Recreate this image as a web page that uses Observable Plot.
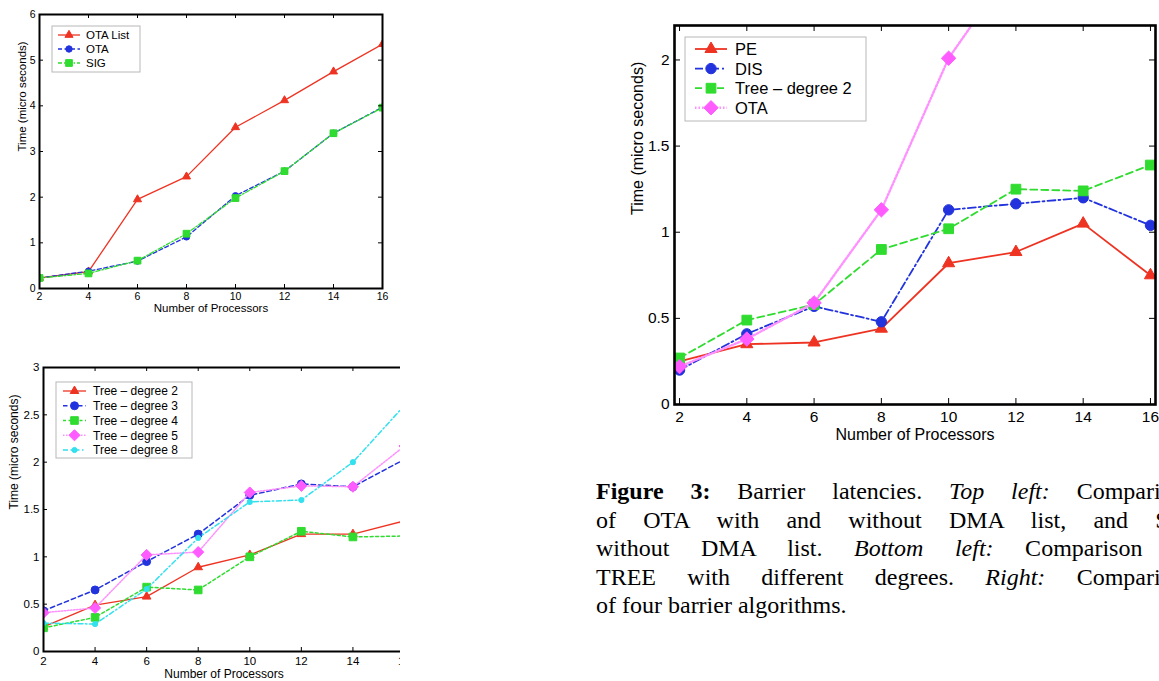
<!DOCTYPE html>
<html>
<head>
<meta charset="utf-8">
<script src="https://cdn.jsdelivr.net/npm/d3@7"></script>
<script src="https://cdn.jsdelivr.net/npm/@observablehq/plot@0.6"></script>
<style>
html, body { margin: 0; padding: 0; background: #fff; overflow: hidden; }
#page { position: relative; width: 1159px; height: 681px; overflow: hidden; background: #fff; }
.panel { position: absolute; overflow: hidden; }
.panel svg { max-width: none !important; }
.legend { position: absolute; }
#caption { position: absolute; left: 596px; top: 477px; width: 598px;
  font-family: "Liberation Serif", "Times New Roman", serif; font-size: 24px; line-height: 28.5px; color: #000; }
#caption .j { text-align: justify; text-align-last: justify; white-space: nowrap; }
#caption .l { text-align: left; white-space: nowrap; }
</style>
</head>
<body>
<div id="page"></div>
<script>
// ---------- data ----------
const procs = [2, 4, 6, 8, 10, 12, 14, 16];
const xTicks = [2, 4, 6, 8, 10, 12, 14, 16];

// top left: OTA with / without DMA list, SIG
const tlNames = ["OTA List", "OTA", "SIG"];
const tlOtaList = [0.23, 0.37, 1.95, 2.45, 3.53, 4.12, 4.75, 5.35];
const tlOta     = [0.23, 0.38, 0.60, 1.13, 2.03, 2.57, 3.40, 3.97];
const tlSig     = [0.23, 0.33, 0.61, 1.20, 1.98, 2.57, 3.40, 3.96];
const tlYTicks  = [0, 1, 2, 3, 4, 5, 6];

// bottom left: TREE with different degrees
const blNames = ["Tree \u2013 degree 2", "Tree \u2013 degree 3", "Tree \u2013 degree 4", "Tree \u2013 degree 5", "Tree \u2013 degree 8"];
const blTree2 = [0.26, 0.49, 0.58, 0.89, 1.02, 1.24, 1.24, 1.38];
const blTree3 = [0.43, 0.65, 0.95, 1.24, 1.65, 1.77, 1.74, 2.03];
const blTree4 = [0.25, 0.36, 0.68, 0.65, 1.00, 1.27, 1.21, 1.22];
const blTree5 = [0.41, 0.46, 1.02, 1.05, 1.68, 1.75, 1.74, 2.17];
const blTree8 = [0.30, 0.29, 0.66, 1.20, 1.58, 1.60, 2.00, 2.60];
const blYTicks = [0, 0.5, 1, 1.5, 2, 2.5, 3];

// right: four barrier algorithms
const rNames = ["PE", "DIS", "Tree \u2013 degree 2", "OTA"];
const rPE    = [0.25, 0.35, 0.36, 0.44, 0.82, 0.885, 1.05, 0.75];
const rDIS   = [0.20, 0.41, 0.57, 0.48, 1.13, 1.165, 1.20, 1.04];
const rTree2 = [0.27, 0.49, 0.58, 0.90, 1.02, 1.25, 1.24, 1.39];
const rOTA   = [0.22, 0.38, 0.59, 1.13, 2.01, 2.57, 3.40, 3.97];
const rYTicks = [0, 0.5, 1, 1.5, 2];

const xLabel = "Number of Processors";
const yLabel = "Time (micro seconds)";

// ---------- styles ----------
const RED = "#ee3322", BLUE = "#2233dd", GREEN = "#2fdc2f", PINK = "#ff5cff", LPINK = "#ff90ff", CYAN = "#33e0ee";
const FONT = '"Liberation Sans", Arial, Helvetica, sans-serif';

const page = document.getElementById("page");

const symbolMap = {
  triangle: d3.symbolTriangle, circle: d3.symbolCircle, square: d3.symbolSquare,
  diamond2: d3.symbolDiamond2, diamond: d3.symbolDiamond
};

function chart(cfg) {
  const fw = cfg.width - cfg.ml - cfg.mr;
  const fh = cfg.height - cfg.mt - cfg.mb;
  const marks = [];
  for (const s of cfg.series) {
    const d = s.values.map((v, i) => ({x: procs[i], y: v}));
    marks.push(Plot.line(d, {x: "x", y: "y", stroke: s.color, strokeWidth: s.lw,
      strokeDasharray: s.dash, clip: true}));
    marks.push(Plot.dot(d, {x: "x", y: "y", symbol: s.symbol, r: s.r, fill: s.mcolor || s.color,
      stroke: s.mcolor || s.color, strokeWidth: 1, clip: true}));
  }
  const tl = cfg.tick;
  marks.push(Plot.ruleX(cfg.xTicks, {x: d => d, insetTop: fh - tl, stroke: "#000", strokeWidth: 1}));
  marks.push(Plot.ruleX(cfg.xTicks, {x: d => d, insetBottom: fh - tl, stroke: "#000", strokeWidth: 1}));
  marks.push(Plot.ruleY(cfg.yTicks, {y: d => d, insetRight: fw - tl, stroke: "#000", strokeWidth: 1}));
  marks.push(Plot.ruleY(cfg.yTicks, {y: d => d, insetLeft: fw - tl, stroke: "#000", strokeWidth: 1}));
  marks.push(Plot.frame({stroke: "#000", strokeWidth: cfg.fsw}));
  marks.push(Plot.axisX(cfg.xTicks, {tickSize: 0, tickPadding: cfg.xpad, fontSize: cfg.tfs, label: null,
    tickFormat: d => String(d)}));
  marks.push(Plot.axisY(cfg.yTicks, {tickSize: 0, tickPadding: cfg.ypad, fontSize: cfg.tfs, label: null,
    tickFormat: d => String(d)}));
  marks.push(Plot.text([xLabel], {text: d => d, frameAnchor: "bottom", dy: cfg.xldy, dx: cfg.xldx || 0, fontSize: cfg.lfs, fill: "#000"}));
  marks.push(Plot.text([yLabel], {text: d => d, frameAnchor: "left", dx: cfg.yldx, rotate: -90, fontSize: cfg.lfs, fill: "#000"}));

  const svg = Plot.plot({
    width: cfg.width, height: cfg.height,
    marginLeft: cfg.ml, marginRight: cfg.mr, marginTop: cfg.mt, marginBottom: cfg.mb,
    x: {domain: cfg.xDomain, label: null},
    y: {domain: cfg.yDomain, label: null},
    style: {fontFamily: FONT, fontSize: cfg.tfs + "px", color: "#000", background: "transparent", overflow: "visible", maxWidth: "none"},
    marks
  });
  svg.style.maxWidth = "none";
  svg.style.width = cfg.width + "px";
  svg.style.height = cfg.height + "px";
  const holder = document.createElement("div");
  holder.className = "panel";
  holder.style.left = cfg.left + "px";
  holder.style.top = cfg.top + "px";
  holder.style.width = (cfg.clipW || cfg.width) + "px";
  holder.style.height = cfg.height + "px";
  holder.appendChild(svg);
  page.appendChild(holder);

  // legend (drawn as overlay box)
  const L = cfg.legend;
  const lg = d3.create("svg").attr("class", "legend").attr("width", L.w + 2).attr("height", L.h + 2)
    .style("left", (L.left - 1) + "px").style("top", (L.top - 1) + "px").style("font-family", FONT);
  lg.append("rect").attr("x", 1).attr("y", 1).attr("width", L.w).attr("height", L.h)
    .attr("fill", "#fff").attr("stroke", "#b8b8b8").attr("stroke-width", 1);
  cfg.series.forEach((s, i) => {
    const y = 1 + L.y0 + i * L.dy;
    lg.append("line").attr("x1", 1 + L.x0).attr("x2", 1 + L.x1).attr("y1", y).attr("y2", y)
      .attr("stroke", s.color).attr("stroke-width", s.lw).attr("stroke-dasharray", s.dash || null);
    lg.append("path").attr("d", d3.symbol(symbolMap[s.symbol], Math.PI * s.r * s.r)())
      .attr("transform", `translate(${1 + (L.x0 + L.x1) / 2},${y})`)
      .attr("fill", s.mcolor || s.color).attr("stroke", s.mcolor || s.color);
    lg.append("text").attr("x", 1 + L.tx).attr("y", y).attr("dy", "0.36em")
      .attr("font-size", L.fs).attr("fill", "#000").text(s.name);
  });
  page.appendChild(lg.node());
}

// top left
chart({
  left: 0, top: 0, width: 400, height: 330, ml: 39, mr: 18, mt: 14, mb: 42,
  xDomain: [2, 16], yDomain: [0, 6], xTicks, yTicks: tlYTicks,
  tick: 4, fsw: 2, tfs: 10.5, lfs: 11.5, xpad: 4, ypad: 4, xldy: 23, yldx: -17,
  series: [
    {name: tlNames[0], values: tlOtaList, color: RED, lw: 1.3, dash: null, symbol: "triangle", r: 3},
    {name: tlNames[1], values: tlOta, color: BLUE, lw: 1.3, dash: "4,2.5", symbol: "circle", r: 3.2},
    {name: tlNames[2], values: tlSig, color: GREEN, lw: 1.3, dash: "4,2,1.5,2", symbol: "square", r: 3.8}
  ],
  legend: {left: 52, top: 26, w: 88, h: 46, y0: 9, dy: 14, x0: 6, x1: 28, tx: 34, fs: 11.5}
});

// bottom left (the reference crops this panel at its right side)
chart({
  left: 0, top: 340, width: 430, height: 341, clipW: 400, ml: 43, mr: 26, mt: 27, mb: 30,
  xDomain: [2, 16], yDomain: [0, 3], xTicks, yTicks: blYTicks,
  tick: 4, fsw: 2, tfs: 11.5, lfs: 12, xpad: 5, ypad: 4, xldy: 26, yldx: -29,
  series: [
    {name: blNames[0], values: blTree2, color: RED, lw: 1.3, dash: null, symbol: "triangle", r: 3.2},
    {name: blNames[1], values: blTree3, color: BLUE, lw: 1.5, dash: "4.5,3", symbol: "circle", r: 4},
    {name: blNames[2], values: blTree4, color: GREEN, lw: 1.5, dash: "3,2.5", symbol: "square", r: 4.3},
    {name: blNames[3], values: blTree5, color: LPINK, lw: 1.5, dash: "1.5,1.5", symbol: "diamond2", r: 5, mcolor: PINK},
    {name: blNames[4], values: blTree8, color: CYAN, lw: 1.5, dash: "5,2.5,1.5,2.5", symbol: "circle", r: 2.6}
  ],
  legend: {left: 56, top: 382, w: 136, h: 76, y0: 9, dy: 14.75, x0: 7, x1: 30, tx: 37, fs: 12}
});

// right
chart({
  left: 600, top: 0, width: 559, height: 460, ml: 74, mr: 4, mt: 25, mb: 56,
  xDomain: [1.85, 16.15], yDomain: [0, 2.2], xTicks, yTicks: rYTicks,
  tick: 6, fsw: 2.6, tfs: 15.5, lfs: 16, xpad: 6, ypad: 5, xldy: 35, yldx: -37,
  series: [
    {name: rNames[0], values: rPE, color: RED, lw: 1.8, dash: null, symbol: "triangle", r: 4.5},
    {name: rNames[1], values: rDIS, color: BLUE, lw: 1.8, dash: "8,3,2,3", symbol: "circle", r: 5.2},
    {name: rNames[2], values: rTree2, color: GREEN, lw: 1.8, dash: "7,4", symbol: "square", r: 5.5},
    {name: rNames[3], values: rOTA, color: LPINK, lw: 2.4, dash: "1.5,2", symbol: "diamond2", r: 6.5, mcolor: PINK}
  ],
  legend: {left: 685, top: 37, w: 181, h: 84, y0: 12, dy: 19.6, x0: 10, x1: 42, tx: 50, fs: 16.5}
});

// caption
const cap = document.createElement("div");
cap.id = "caption";
cap.innerHTML =
  '<div class="j"><b>Figure 3:</b> Barrier latencies. <i>Top left:</i> Comparison</div>' +
  '<div class="j">of OTA with and without DMA list, and SIG</div>' +
  '<div class="j">without DMA list. <i>Bottom left:</i> Comparison of</div>' +
  '<div class="j">TREE with different degrees. <i>Right:</i> Comparison</div>' +
  '<div class="l">of four barrier algorithms.</div>';
page.appendChild(cap);
</script>
</body>
</html>
